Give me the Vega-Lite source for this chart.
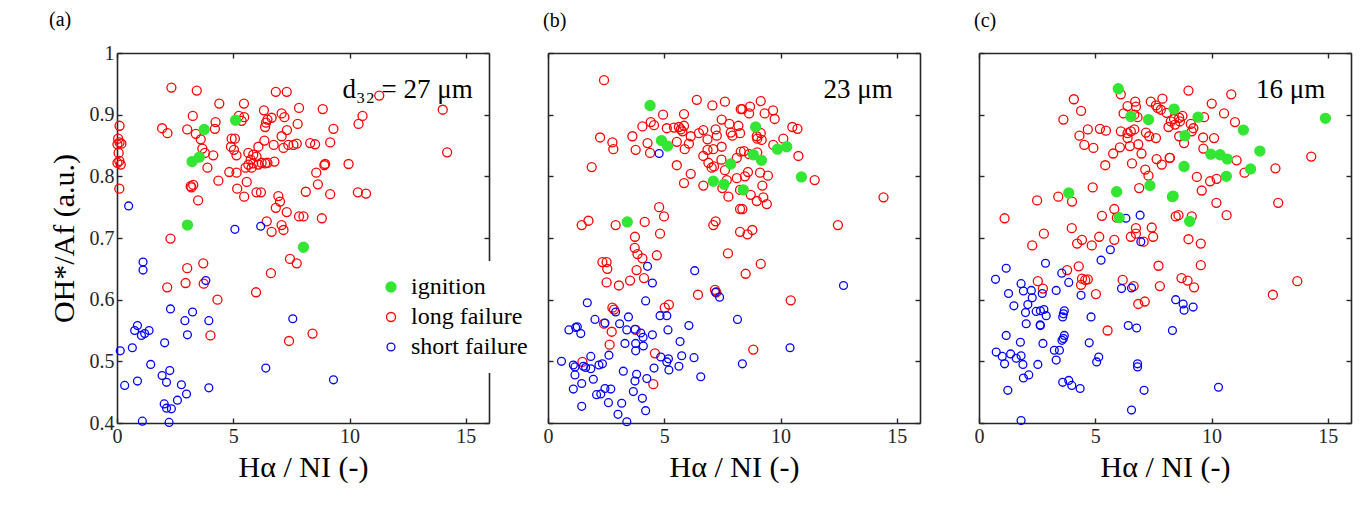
{
"$schema": "https://vega.github.io/schema/vega-lite/v6.json",
"padding": {"left": 49, "top": 10, "right": 5, "bottom": 5},
"config": {
  "font": "Liberation Serif",
  "view": {"stroke": null},
  "axis": {"grid": false, "domainColor": "#262626", "domainWidth": 1.6, "tickColor": "#262626", "tickWidth": 1.4, "tickSize": -5, "labelFont": "Liberation Serif", "labelFontSize": 20, "labelColor": "#262626", "labelPadding": 8, "titleFont": "Liberation Serif", "titleFontSize": 30, "titleFontWeight": "normal", "titleColor": "#000000", "titlePadding": 10, "labelFlush": false, "labelOverlap": false},
  "axisX": {"titlePadding": 6},
  "title": {"font": "Liberation Serif", "fontSize": 20, "fontWeight": "normal", "anchor": "start", "offset": 21, "color": "#000000"}
},
"datasets": {
"a": [
{"x":2.34,"y":0.944,"t":"L"},{"x":3.43,"y":0.939,"t":"L"},{"x":6.83,"y":0.937,"t":"L"},{"x":7.3,"y":0.937,"t":"L"},{"x":4.4,"y":0.918,"t":"L"},{"x":5.46,"y":0.918,"t":"L"},{"x":6.32,"y":0.907,"t":"L"},{"x":7.83,"y":0.911,"t":"L"},{"x":0.11,"y":0.882,"t":"L"},{"x":3.26,"y":0.898,"t":"L"},{"x":5.24,"y":0.898,"t":"L"},{"x":5.47,"y":0.896,"t":"L"},{"x":5.36,"y":0.89,"t":"L"},{"x":6.65,"y":0.895,"t":"L"},{"x":6.47,"y":0.892,"t":"L"},{"x":6.41,"y":0.887,"t":"L"},{"x":6.37,"y":0.88,"t":"L"},{"x":7.08,"y":0.902,"t":"L"},{"x":7.2,"y":0.896,"t":"L"},{"x":7.31,"y":0.875,"t":"L"},{"x":4.24,"y":0.888,"t":"L"},{"x":4.21,"y":0.877,"t":"L"},{"x":1.94,"y":0.878,"t":"L"},{"x":2.17,"y":0.87,"t":"L"},{"x":3.02,"y":0.876,"t":"L"},{"x":3.39,"y":0.869,"t":"L"},{"x":3.6,"y":0.86,"t":"L"},
{"x":0.05,"y":0.861,"t":"L"},{"x":0.11,"y":0.855,"t":"L"},{"x":0.02,"y":0.852,"t":"L"},{"x":0.19,"y":0.853,"t":"L"},{"x":0.07,"y":0.838,"t":"L"},{"x":0.1,"y":0.825,"t":"L"},{"x":0.02,"y":0.822,"t":"L"},{"x":0.16,"y":0.819,"t":"L"},{"x":0.1,"y":0.78,"t":"L"},
{"x":4.93,"y":0.861,"t":"L"},{"x":5.07,"y":0.861,"t":"L"},{"x":4.9,"y":0.848,"t":"L"},{"x":5.03,"y":0.843,"t":"L"},{"x":5.14,"y":0.834,"t":"L"},{"x":3.67,"y":0.845,"t":"L"},{"x":3.78,"y":0.838,"t":"L"},{"x":4.14,"y":0.834,"t":"L"},{"x":3.89,"y":0.814,"t":"L"},
{"x":6.34,"y":0.858,"t":"L"},{"x":6.08,"y":0.848,"t":"L"},{"x":6.74,"y":0.851,"t":"L"},{"x":7.08,"y":0.865,"t":"L"},{"x":7.16,"y":0.846,"t":"L"},{"x":7.37,"y":0.851,"t":"L"},{"x":7.59,"y":0.851,"t":"L"},{"x":7.73,"y":0.853,"t":"L"},
{"x":5.65,"y":0.838,"t":"L"},{"x":5.86,"y":0.835,"t":"L"},{"x":5.75,"y":0.827,"t":"L"},{"x":6.0,"y":0.832,"t":"L"},{"x":5.65,"y":0.819,"t":"L"},{"x":5.86,"y":0.821,"t":"L"},{"x":6.08,"y":0.819,"t":"L"},{"x":5.79,"y":0.814,"t":"L"},{"x":5.53,"y":0.814,"t":"L"},{"x":6.22,"y":0.822,"t":"L"},{"x":6.47,"y":0.822,"t":"L"},{"x":6.77,"y":0.824,"t":"L"},{"x":6.37,"y":0.821,"t":"L"},
{"x":4.83,"y":0.807,"t":"L"},{"x":5.14,"y":0.806,"t":"L"},{"x":4.36,"y":0.793,"t":"L"},{"x":5.58,"y":0.791,"t":"L"},{"x":3.17,"y":0.784,"t":"L"},{"x":3.28,"y":0.786,"t":"L"},{"x":3.2,"y":0.782,"t":"L"},{"x":3.49,"y":0.761,"t":"L"},{"x":5.17,"y":0.78,"t":"L"},{"x":5.47,"y":0.767,"t":"L"},{"x":6.0,"y":0.774,"t":"L"},{"x":6.19,"y":0.774,"t":"L"},{"x":6.94,"y":0.768,"t":"L"},{"x":7.01,"y":0.759,"t":"L"},{"x":6.83,"y":0.749,"t":"L"},{"x":7.3,"y":0.742,"t":"L"},{"x":7.83,"y":0.735,"t":"L"},{"x":6.44,"y":0.727,"t":"L"},{"x":7.08,"y":0.721,"t":"L"},{"x":7.16,"y":0.713,"t":"L"},{"x":6.65,"y":0.71,"t":"L"},{"x":2.3,"y":0.699,"t":"L"},
{"x":11.28,"y":0.931,"t":"L"},{"x":14.01,"y":0.908,"t":"L"},{"x":14.2,"y":0.839,"t":"L"},{"x":8.85,"y":0.909,"t":"L"},{"x":10.56,"y":0.898,"t":"L"},{"x":10.39,"y":0.885,"t":"L"},{"x":7.77,"y":0.885,"t":"L"},{"x":9.31,"y":0.877,"t":"L"},{"x":8.31,"y":0.854,"t":"L"},{"x":8.52,"y":0.852,"t":"L"},{"x":9.17,"y":0.855,"t":"L"},{"x":8.95,"y":0.82,"t":"L"},{"x":8.92,"y":0.818,"t":"L"},{"x":9.96,"y":0.82,"t":"L"},{"x":8.57,"y":0.806,"t":"L"},{"x":8.64,"y":0.787,"t":"L"},{"x":8.12,"y":0.775,"t":"L"},{"x":9.17,"y":0.771,"t":"L"},{"x":10.36,"y":0.774,"t":"L"},{"x":10.71,"y":0.772,"t":"L"},{"x":8.02,"y":0.735,"t":"L"},{"x":8.81,"y":0.732,"t":"L"},
{"x":3.02,"y":0.651,"t":"L"},{"x":3.71,"y":0.659,"t":"L"},{"x":2.95,"y":0.627,"t":"L"},{"x":3.73,"y":0.626,"t":"L"},{"x":2.16,"y":0.62,"t":"L"},{"x":4.32,"y":0.6,"t":"L"},{"x":5.98,"y":0.612,"t":"L"},{"x":6.62,"y":0.643,"t":"L"},{"x":7.44,"y":0.666,"t":"L"},{"x":7.73,"y":0.659,"t":"L"},{"x":4.02,"y":0.542,"t":"L"},{"x":7.4,"y":0.533,"t":"L"},{"x":8.41,"y":0.545,"t":"L"},
{"x":0.5,"y":0.752,"t":"S"},{"x":5.07,"y":0.714,"t":"S"},{"x":6.18,"y":0.719,"t":"S"},{"x":1.12,"y":0.661,"t":"S"},{"x":1.12,"y":0.648,"t":"S"},{"x":3.82,"y":0.631,"t":"S"},{"x":2.3,"y":0.585,"t":"S"},{"x":3.25,"y":0.58,"t":"S"},{"x":2.92,"y":0.566,"t":"S"},{"x":3.95,"y":0.566,"t":"S"},{"x":3.03,"y":0.543,"t":"S"},{"x":0.88,"y":0.558,"t":"S"},{"x":0.76,"y":0.55,"t":"S"},{"x":1.05,"y":0.542,"t":"S"},{"x":1.19,"y":0.545,"t":"S"},{"x":1.38,"y":0.55,"t":"S"},{"x":2.05,"y":0.53,"t":"S"},{"x":0.14,"y":0.517,"t":"S"},{"x":0.66,"y":0.522,"t":"S"},{"x":1.45,"y":0.495,"t":"S"},{"x":1.94,"y":0.477,"t":"S"},{"x":2.27,"y":0.485,"t":"S"},{"x":2.13,"y":0.466,"t":"S"},{"x":0.33,"y":0.461,"t":"S"},{"x":0.88,"y":0.468,"t":"S"},{"x":2.77,"y":0.462,"t":"S"},{"x":2.99,"y":0.447,"t":"S"},{"x":2.6,"y":0.437,"t":"S"},{"x":3.95,"y":0.457,"t":"S"},{"x":2.03,"y":0.431,"t":"S"},{"x":2.13,"y":0.424,"t":"S"},{"x":2.34,"y":0.423,"t":"S"},{"x":1.09,"y":0.403,"t":"S"},{"x":2.24,"y":0.401,"t":"S"},{"x":7.56,"y":0.569,"t":"S"},{"x":9.31,"y":0.47,"t":"S"},{"x":6.4,"y":0.489,"t":"S"},
{"x":5.1,"y":0.891,"t":"I"},{"x":3.75,"y":0.876,"t":"I"},{"x":3.54,"y":0.831,"t":"I"},{"x":3.23,"y":0.824,"t":"I"},{"x":3.03,"y":0.721,"t":"I"},{"x":8.02,"y":0.685,"t":"I"}
],
"b": [
{"x":2.41,"y":0.956,"t":"L"},{"x":6.4,"y":0.924,"t":"L"},{"x":7.07,"y":0.915,"t":"L"},{"x":7.61,"y":0.921,"t":"L"},{"x":8.29,"y":0.909,"t":"L"},{"x":4.95,"y":0.9,"t":"L"},{"x":5.85,"y":0.901,"t":"L"},{"x":4.06,"y":0.881,"t":"L"},{"x":4.42,"y":0.888,"t":"L"},{"x":4.56,"y":0.883,"t":"L"},{"x":5.11,"y":0.878,"t":"L"},{"x":5.42,"y":0.879,"t":"L"},{"x":5.63,"y":0.88,"t":"L"},{"x":5.71,"y":0.876,"t":"L"},{"x":5.85,"y":0.882,"t":"L"},{"x":5.78,"y":0.873,"t":"L"},
{"x":6.49,"y":0.87,"t":"L"},{"x":6.68,"y":0.875,"t":"L"},{"x":6.86,"y":0.86,"t":"L"},{"x":7.21,"y":0.876,"t":"L"},{"x":7.26,"y":0.866,"t":"L"},{"x":7.47,"y":0.892,"t":"L"},{"x":7.8,"y":0.885,"t":"L"},{"x":7.86,"y":0.871,"t":"L"},{"x":7.93,"y":0.866,"t":"L"},{"x":8.19,"y":0.882,"t":"L"},{"x":8.26,"y":0.87,"t":"L"},
{"x":6.14,"y":0.865,"t":"L"},{"x":6.06,"y":0.853,"t":"L"},{"x":5.54,"y":0.856,"t":"L"},
{"x":2.24,"y":0.863,"t":"L"},{"x":2.77,"y":0.855,"t":"L"},{"x":2.81,"y":0.844,"t":"L"},{"x":3.63,"y":0.865,"t":"L"},{"x":3.77,"y":0.843,"t":"L"},{"x":4.28,"y":0.854,"t":"L"},{"x":4.39,"y":0.838,"t":"L"},{"x":5.88,"y":0.844,"t":"L"},{"x":1.88,"y":0.815,"t":"L"},
{"x":6.68,"y":0.833,"t":"L"},{"x":6.86,"y":0.843,"t":"L"},{"x":7.11,"y":0.844,"t":"L"},{"x":7.47,"y":0.848,"t":"L"},{"x":6.9,"y":0.822,"t":"L"},{"x":7.04,"y":0.814,"t":"L"},{"x":7.14,"y":0.816,"t":"L"},{"x":7.61,"y":0.81,"t":"L"},{"x":7.46,"y":0.827,"t":"L"},{"x":8.12,"y":0.83,"t":"L"},{"x":8.29,"y":0.84,"t":"L"},
{"x":5.54,"y":0.818,"t":"L"},{"x":6.14,"y":0.804,"t":"L"},{"x":5.85,"y":0.789,"t":"L"},{"x":6.68,"y":0.785,"t":"L"},{"x":7.5,"y":0.781,"t":"L"},{"x":7.76,"y":0.767,"t":"L"},{"x":7.69,"y":0.794,"t":"L"},{"x":8.12,"y":0.797,"t":"L"},{"x":8.26,"y":0.778,"t":"L"},{"x":8.26,"y":0.747,"t":"L"},{"x":4.78,"y":0.75,"t":"L"},{"x":4.99,"y":0.735,"t":"L"},
{"x":1.45,"y":0.721,"t":"L"},{"x":1.74,"y":0.728,"t":"L"},{"x":2.91,"y":0.721,"t":"L"},{"x":4.16,"y":0.726,"t":"L"},{"x":3.74,"y":0.702,"t":"L"},{"x":4.82,"y":0.707,"t":"L"},{"x":7.11,"y":0.721,"t":"L"},{"x":7.21,"y":0.727,"t":"L"},{"x":8.26,"y":0.71,"t":"L"},
{"x":9.15,"y":0.922,"t":"L"},{"x":8.36,"y":0.909,"t":"L"},{"x":8.69,"y":0.913,"t":"L"},{"x":8.65,"y":0.902,"t":"L"},{"x":9.32,"y":0.902,"t":"L"},{"x":9.68,"y":0.907,"t":"L"},{"x":9.75,"y":0.893,"t":"L"},{"x":8.98,"y":0.865,"t":"L"},{"x":9.15,"y":0.87,"t":"L"},{"x":9.19,"y":0.859,"t":"L"},{"x":9.0,"y":0.861,"t":"L"},{"x":10.51,"y":0.88,"t":"L"},{"x":10.73,"y":0.877,"t":"L"},{"x":10.12,"y":0.861,"t":"L"},{"x":9.69,"y":0.851,"t":"L"},{"x":8.43,"y":0.841,"t":"L"},{"x":8.65,"y":0.836,"t":"L"},{"x":9.0,"y":0.839,"t":"L"},{"x":10.77,"y":0.833,"t":"L"},{"x":8.47,"y":0.8,"t":"L"},{"x":8.6,"y":0.807,"t":"L"},{"x":9.12,"y":0.806,"t":"L"},{"x":9.46,"y":0.801,"t":"L"},{"x":9.22,"y":0.785,"t":"L"},{"x":11.47,"y":0.794,"t":"L"},{"x":8.72,"y":0.77,"t":"L"},{"x":8.98,"y":0.76,"t":"L"},{"x":9.26,"y":0.766,"t":"L"},{"x":9.41,"y":0.755,"t":"L"},{"x":8.36,"y":0.747,"t":"L"},{"x":14.43,"y":0.766,"t":"L"},{"x":12.47,"y":0.721,"t":"L"},{"x":8.58,"y":0.706,"t":"L"},{"x":8.79,"y":0.713,"t":"L"},
{"x":3.73,"y":0.684,"t":"L"},{"x":3.85,"y":0.674,"t":"L"},{"x":4.06,"y":0.667,"t":"L"},{"x":4.68,"y":0.672,"t":"L"},{"x":2.34,"y":0.661,"t":"L"},{"x":2.52,"y":0.661,"t":"L"},{"x":2.55,"y":0.65,"t":"L"},{"x":2.52,"y":0.628,"t":"L"},{"x":3.05,"y":0.623,"t":"L"},{"x":3.53,"y":0.631,"t":"L"},{"x":3.81,"y":0.648,"t":"L"},{"x":4.13,"y":0.635,"t":"L"},{"x":7.74,"y":0.675,"t":"L"},{"x":6.45,"y":0.608,"t":"L"},{"x":7.18,"y":0.616,"t":"L"},{"x":7.24,"y":0.612,"t":"L"},{"x":2.77,"y":0.587,"t":"L"},{"x":2.84,"y":0.584,"t":"L"},{"x":2.41,"y":0.561,"t":"L"},{"x":2.74,"y":0.548,"t":"L"},{"x":5.02,"y":0.587,"t":"L"},{"x":5.2,"y":0.592,"t":"L"},{"x":3.77,"y":0.551,"t":"L"},{"x":2.65,"y":0.527,"t":"L"},{"x":4.6,"y":0.513,"t":"L"},{"x":1.48,"y":0.499,"t":"L"},{"x":4.53,"y":0.463,"t":"L"},
{"x":9.15,"y":0.658,"t":"L"},{"x":8.5,"y":0.642,"t":"L"},{"x":10.44,"y":0.599,"t":"L"},{"x":8.83,"y":0.519,"t":"L"},
{"x":4.78,"y":0.837,"t":"S"},{"x":4.28,"y":0.654,"t":"S"},{"x":4.49,"y":0.627,"t":"S"},{"x":4.2,"y":0.598,"t":"S"},{"x":1.69,"y":0.595,"t":"S"},{"x":6.31,"y":0.647,"t":"S"},{"x":7.21,"y":0.612,"t":"S"},{"x":7.38,"y":0.604,"t":"S"},{"x":8.15,"y":0.568,"t":"S"},
{"x":2.02,"y":0.568,"t":"S"},{"x":2.45,"y":0.562,"t":"S"},{"x":2.91,"y":0.58,"t":"S"},{"x":3.08,"y":0.561,"t":"S"},{"x":3.46,"y":0.572,"t":"S"},{"x":3.39,"y":0.551,"t":"S"},{"x":3.74,"y":0.552,"t":"S"},{"x":3.99,"y":0.546,"t":"S"},{"x":4.09,"y":0.539,"t":"S"},{"x":3.31,"y":0.529,"t":"S"},{"x":3.77,"y":0.529,"t":"S"},{"x":4.1,"y":0.525,"t":"S"},{"x":3.77,"y":0.517,"t":"S"},{"x":4.49,"y":0.543,"t":"S"},
{"x":4.82,"y":0.574,"t":"S"},{"x":5.11,"y":0.574,"t":"S"},{"x":5.16,"y":0.551,"t":"S"},{"x":6.06,"y":0.558,"t":"S"},{"x":5.68,"y":0.532,"t":"S"},{"x":0.9,"y":0.551,"t":"S"},{"x":1.19,"y":0.555,"t":"S"},{"x":1.26,"y":0.556,"t":"S"},{"x":1.41,"y":0.545,"t":"S"},
{"x":0.58,"y":0.5,"t":"S"},{"x":1.09,"y":0.494,"t":"S"},{"x":1.16,"y":0.491,"t":"S"},{"x":1.52,"y":0.492,"t":"S"},{"x":1.62,"y":0.49,"t":"S"},{"x":1.84,"y":0.508,"t":"S"},{"x":1.84,"y":0.488,"t":"S"},{"x":2.34,"y":0.496,"t":"S"},{"x":2.19,"y":0.494,"t":"S"},{"x":2.62,"y":0.51,"t":"S"},{"x":1.95,"y":0.471,"t":"S"},{"x":1.16,"y":0.478,"t":"S"},{"x":1.09,"y":0.455,"t":"S"},{"x":1.45,"y":0.464,"t":"S"},
{"x":2.09,"y":0.446,"t":"S"},{"x":2.27,"y":0.447,"t":"S"},{"x":2.45,"y":0.456,"t":"S"},{"x":2.7,"y":0.455,"t":"S"},{"x":2.6,"y":0.433,"t":"S"},{"x":3.17,"y":0.432,"t":"S"},{"x":3.01,"y":0.414,"t":"S"},{"x":3.39,"y":0.402,"t":"S"},{"x":1.45,"y":0.427,"t":"S"},
{"x":3.24,"y":0.484,"t":"S"},{"x":3.81,"y":0.479,"t":"S"},{"x":3.74,"y":0.468,"t":"S"},{"x":4.25,"y":0.472,"t":"S"},{"x":3.67,"y":0.451,"t":"S"},{"x":4.06,"y":0.44,"t":"S"},{"x":4.2,"y":0.42,"t":"S"},
{"x":4.56,"y":0.489,"t":"S"},{"x":4.85,"y":0.507,"t":"S"},{"x":5.18,"y":0.504,"t":"S"},{"x":5.11,"y":0.499,"t":"S"},{"x":5.2,"y":0.486,"t":"S"},{"x":5.75,"y":0.509,"t":"S"},{"x":5.63,"y":0.492,"t":"S"},{"x":6.28,"y":0.506,"t":"S"},{"x":6.57,"y":0.475,"t":"S"},
{"x":8.36,"y":0.496,"t":"S"},{"x":12.71,"y":0.623,"t":"S"},{"x":10.41,"y":0.522,"t":"S"},
{"x":4.39,"y":0.915,"t":"I"},{"x":4.88,"y":0.858,"t":"I"},{"x":5.14,"y":0.849,"t":"I"},{"x":7.86,"y":0.82,"t":"I"},{"x":7.11,"y":0.792,"t":"I"},{"x":7.57,"y":0.787,"t":"I"},{"x":3.41,"y":0.726,"t":"I"},{"x":8.93,"y":0.88,"t":"I"},{"x":9.87,"y":0.844,"t":"I"},{"x":10.27,"y":0.848,"t":"I"},{"x":8.83,"y":0.835,"t":"I"},{"x":9.18,"y":0.826,"t":"I"},{"x":10.9,"y":0.799,"t":"I"},{"x":8.4,"y":0.778,"t":"I"}
],
"c": [
{"x":4.08,"y":0.925,"t":"L"},{"x":4.39,"y":0.906,"t":"L"},{"x":3.63,"y":0.892,"t":"L"},
{"x":6.1,"y":0.933,"t":"L"},{"x":6.39,"y":0.914,"t":"L"},{"x":6.72,"y":0.921,"t":"L"},{"x":6.75,"y":0.913,"t":"L"},{"x":6.82,"y":0.896,"t":"L"},{"x":6.22,"y":0.902,"t":"L"},{"x":6.68,"y":0.9,"t":"L"},
{"x":7.39,"y":0.921,"t":"L"},{"x":7.61,"y":0.915,"t":"L"},{"x":7.89,"y":0.926,"t":"L"},{"x":7.82,"y":0.908,"t":"L"},{"x":8.07,"y":0.903,"t":"L"},{"x":7.68,"y":0.911,"t":"L"},{"x":8.43,"y":0.884,"t":"L"},{"x":8.15,"y":0.88,"t":"L"},{"x":8.25,"y":0.889,"t":"L"},
{"x":4.68,"y":0.876,"t":"L"},{"x":5.2,"y":0.877,"t":"L"},{"x":5.46,"y":0.874,"t":"L"},{"x":4.32,"y":0.866,"t":"L"},{"x":4.53,"y":0.851,"t":"L"},{"x":4.92,"y":0.846,"t":"L"},
{"x":6.1,"y":0.873,"t":"L"},{"x":6.39,"y":0.87,"t":"L"},{"x":6.53,"y":0.873,"t":"L"},{"x":6.68,"y":0.876,"t":"L"},{"x":7.18,"y":0.871,"t":"L"},{"x":6.39,"y":0.862,"t":"L"},{"x":6.49,"y":0.849,"t":"L"},{"x":6.85,"y":0.852,"t":"L"},{"x":7.32,"y":0.865,"t":"L"},{"x":7.61,"y":0.862,"t":"L"},{"x":6.06,"y":0.847,"t":"L"},
{"x":5.77,"y":0.837,"t":"L"},{"x":6.99,"y":0.837,"t":"L"},{"x":7.64,"y":0.828,"t":"L"},{"x":7.86,"y":0.819,"t":"L"},{"x":8.2,"y":0.83,"t":"L"},{"x":5.43,"y":0.818,"t":"L"},{"x":6.58,"y":0.821,"t":"L"},{"x":7.15,"y":0.811,"t":"L"},{"x":7.29,"y":0.801,"t":"L"},{"x":6.89,"y":0.781,"t":"L"},{"x":4.89,"y":0.782,"t":"L"},
{"x":2.5,"y":0.761,"t":"L"},{"x":3.41,"y":0.767,"t":"L"},{"x":4.0,"y":0.759,"t":"L"},{"x":5.82,"y":0.747,"t":"L"},{"x":5.29,"y":0.736,"t":"L"},{"x":5.93,"y":0.733,"t":"L"},{"x":1.1,"y":0.732,"t":"L"},{"x":8.46,"y":0.735,"t":"L"},
{"x":2.29,"y":0.688,"t":"L"},{"x":2.79,"y":0.707,"t":"L"},{"x":4.22,"y":0.691,"t":"L"},{"x":4.43,"y":0.697,"t":"L"},{"x":4.85,"y":0.688,"t":"L"},{"x":5.17,"y":0.702,"t":"L"},{"x":5.82,"y":0.697,"t":"L"},{"x":6.53,"y":0.702,"t":"L"},{"x":6.75,"y":0.707,"t":"L"},{"x":7.08,"y":0.694,"t":"L"},{"x":7.49,"y":0.702,"t":"L"},{"x":3.99,"y":0.716,"t":"L"},{"x":6.75,"y":0.716,"t":"L"},{"x":7.43,"y":0.717,"t":"L"},
{"x":9.01,"y":0.939,"t":"L"},{"x":10.85,"y":0.933,"t":"L"},{"x":10.01,"y":0.918,"t":"L"},{"x":8.39,"y":0.893,"t":"L"},{"x":8.61,"y":0.895,"t":"L"},{"x":8.75,"y":0.898,"t":"L"},{"x":8.64,"y":0.889,"t":"L"},{"x":9.11,"y":0.885,"t":"L"},{"x":9.22,"y":0.878,"t":"L"},{"x":9.15,"y":0.873,"t":"L"},{"x":9.68,"y":0.896,"t":"L"},{"x":10.54,"y":0.902,"t":"L"},{"x":11.01,"y":0.888,"t":"L"},{"x":8.61,"y":0.865,"t":"L"},{"x":8.82,"y":0.854,"t":"L"},{"x":9.64,"y":0.863,"t":"L"},{"x":10.11,"y":0.862,"t":"L"},{"x":9.65,"y":0.845,"t":"L"},{"x":8.21,"y":0.83,"t":"L"},{"x":11.08,"y":0.826,"t":"L"},{"x":9.37,"y":0.799,"t":"L"},{"x":9.94,"y":0.792,"t":"L"},{"x":10.22,"y":0.796,"t":"L"},{"x":9.58,"y":0.777,"t":"L"},{"x":11.42,"y":0.806,"t":"L"},{"x":12.75,"y":0.813,"t":"L"},{"x":14.29,"y":0.832,"t":"L"},{"x":10.21,"y":0.757,"t":"L"},{"x":10.65,"y":0.737,"t":"L"},{"x":9.15,"y":0.735,"t":"L"},{"x":8.58,"y":0.737,"t":"L"},{"x":12.87,"y":0.757,"t":"L"},{"x":9.01,"y":0.698,"t":"L"},
{"x":4.29,"y":0.654,"t":"L"},{"x":3.79,"y":0.648,"t":"L"},{"x":2.53,"y":0.63,"t":"L"},{"x":2.75,"y":0.618,"t":"L"},{"x":4.43,"y":0.634,"t":"L"},{"x":4.57,"y":0.632,"t":"L"},{"x":4.68,"y":0.633,"t":"L"},{"x":4.39,"y":0.624,"t":"L"},{"x":5.03,"y":0.609,"t":"L"},{"x":5.53,"y":0.55,"t":"L"},{"x":6.18,"y":0.632,"t":"L"},{"x":6.65,"y":0.622,"t":"L"},{"x":6.85,"y":0.593,"t":"L"},{"x":7.13,"y":0.597,"t":"L"},{"x":7.72,"y":0.655,"t":"L"},{"x":7.78,"y":0.622,"t":"L"},
{"x":9.54,"y":0.691,"t":"L"},{"x":9.54,"y":0.656,"t":"L"},{"x":8.71,"y":0.635,"t":"L"},{"x":8.97,"y":0.631,"t":"L"},{"x":9.25,"y":0.62,"t":"L"},{"x":12.64,"y":0.608,"t":"L"},{"x":13.69,"y":0.63,"t":"L"},
{"x":6.32,"y":0.732,"t":"S"},{"x":6.93,"y":0.737,"t":"S"},{"x":6.96,"y":0.694,"t":"S"},{"x":5.65,"y":0.681,"t":"S"},{"x":5.25,"y":0.664,"t":"S"},
{"x":1.17,"y":0.651,"t":"S"},{"x":0.71,"y":0.633,"t":"S"},{"x":2.86,"y":0.659,"t":"S"},{"x":3.56,"y":0.643,"t":"S"},{"x":3.86,"y":0.628,"t":"S"},{"x":6.13,"y":0.618,"t":"S"},{"x":6.56,"y":0.619,"t":"S"},{"x":4.39,"y":0.607,"t":"S"},{"x":3.32,"y":0.615,"t":"S"},
{"x":1.81,"y":0.626,"t":"S"},{"x":1.91,"y":0.614,"t":"S"},{"x":2.25,"y":0.615,"t":"S"},{"x":1.27,"y":0.61,"t":"S"},{"x":2.29,"y":0.603,"t":"S"},{"x":2.72,"y":0.61,"t":"S"},{"x":1.5,"y":0.59,"t":"S"},{"x":2.1,"y":0.592,"t":"S"},{"x":2.0,"y":0.579,"t":"S"},{"x":2.46,"y":0.581,"t":"S"},{"x":2.64,"y":0.582,"t":"S"},{"x":2.79,"y":0.584,"t":"S"},{"x":2.89,"y":0.574,"t":"S"},{"x":2.03,"y":0.561,"t":"S"},{"x":2.63,"y":0.559,"t":"S"},{"x":2.64,"y":0.558,"t":"S"},
{"x":3.67,"y":0.582,"t":"S"},{"x":3.63,"y":0.577,"t":"S"},{"x":3.6,"y":0.572,"t":"S"},{"x":4.82,"y":0.572,"t":"S"},{"x":6.42,"y":0.558,"t":"S"},{"x":6.78,"y":0.554,"t":"S"},{"x":8.32,"y":0.55,"t":"S"},{"x":8.46,"y":0.6,"t":"S"},
{"x":1.17,"y":0.542,"t":"S"},{"x":1.78,"y":0.531,"t":"S"},{"x":2.75,"y":0.529,"t":"S"},{"x":0.74,"y":0.515,"t":"S"},{"x":1.0,"y":0.508,"t":"S"},{"x":1.36,"y":0.512,"t":"S"},{"x":1.1,"y":0.496,"t":"S"},{"x":1.6,"y":0.505,"t":"S"},{"x":1.81,"y":0.509,"t":"S"},{"x":1.89,"y":0.495,"t":"S"},{"x":2.53,"y":0.495,"t":"S"},{"x":1.91,"y":0.473,"t":"S"},{"x":2.14,"y":0.478,"t":"S"},
{"x":3.67,"y":0.542,"t":"S"},{"x":3.63,"y":0.537,"t":"S"},{"x":3.57,"y":0.534,"t":"S"},{"x":3.24,"y":0.518,"t":"S"},{"x":3.46,"y":0.518,"t":"S"},{"x":3.32,"y":0.502,"t":"S"},{"x":4.74,"y":0.53,"t":"S"},{"x":5.15,"y":0.507,"t":"S"},{"x":5.06,"y":0.499,"t":"S"},{"x":3.6,"y":0.466,"t":"S"},{"x":3.86,"y":0.469,"t":"S"},{"x":3.99,"y":0.461,"t":"S"},{"x":4.35,"y":0.456,"t":"S"},{"x":1.24,"y":0.453,"t":"S"},{"x":1.81,"y":0.404,"t":"S"},
{"x":6.82,"y":0.496,"t":"S"},{"x":6.82,"y":0.491,"t":"S"},{"x":7.1,"y":0.453,"t":"S"},{"x":6.56,"y":0.421,"t":"S"},{"x":8.78,"y":0.593,"t":"S"},{"x":8.82,"y":0.583,"t":"S"},{"x":9.21,"y":0.588,"t":"S"},{"x":10.3,"y":0.458,"t":"S"},
{"x":5.99,"y":0.942,"t":"I"},{"x":6.53,"y":0.897,"t":"I"},{"x":7.29,"y":0.892,"t":"I"},{"x":8.39,"y":0.909,"t":"I"},{"x":3.86,"y":0.773,"t":"I"},{"x":5.92,"y":0.775,"t":"I"},{"x":7.35,"y":0.785,"t":"I"},{"x":8.32,"y":0.767,"t":"I"},{"x":6.03,"y":0.733,"t":"I"},{"x":9.42,"y":0.896,"t":"I"},{"x":8.86,"y":0.866,"t":"I"},{"x":11.37,"y":0.875,"t":"I"},{"x":14.9,"y":0.894,"t":"I"},{"x":12.08,"y":0.841,"t":"I"},{"x":9.97,"y":0.836,"t":"I"},{"x":10.37,"y":0.835,"t":"I"},{"x":10.68,"y":0.828,"t":"I"},{"x":8.82,"y":0.816,"t":"I"},{"x":11.68,"y":0.812,"t":"I"},{"x":10.64,"y":0.8,"t":"I"},{"x":8.35,"y":0.768,"t":"I"},{"x":9.06,"y":0.727,"t":"I"}
]
},
"hconcat": [
{
 "width": 372, "height": 370,
 "title": {"text": "(a)", "offset": 13},
 "data": {"name": "a"},
 "layer": [
  {"mark": {"type": "point", "strokeWidth": 1.3, "opacity": 1},
   "encoding": {
    "x": {"field": "x", "type": "quantitative", "scale": {"domain": [0, 16], "nice": false, "zero": false}, "axis": {"values": [0, 5, 10, 15], "title": "Hα / NI (-)"}},
    "y": {"field": "y", "type": "quantitative", "scale": {"domain": [0.4, 1], "nice": false, "zero": false}, "axis": {"values": [0.4, 0.5, 0.6, 0.7, 0.8, 0.9, 1], "format": "~g", "title": "OH*/Af (a.u.)"}},
    "fill": {"field": "t", "type": "nominal", "scale": {"domain": ["I", "L", "S"], "range": ["#33e633", "transparent", "transparent"]}, "legend": {"orient": "none", "legendX": 248, "legendY": 208, "title": null, "labelExpr": "datum.label == 'I' ? 'ignition' : datum.label == 'L' ? 'long failure' : 'short failure'", "fillColor": "white", "padding": 14, "labelFontSize": 24, "labelFont": "Liberation Serif", "labelColor": "#000000", "symbolStrokeWidth": 1.3, "symbolOpacity": 1, "rowPadding": 6, "labelOffset": 8, "symbolType": "circle"}},
    "stroke": {"field": "t", "type": "nominal", "scale": {"domain": ["I", "L", "S"], "range": ["#33e633", "#ff0000", "#0000ff"]}, "legend": {"orient": "none", "legendX": 248, "legendY": 208, "title": null, "labelExpr": "datum.label == 'I' ? 'ignition' : datum.label == 'L' ? 'long failure' : 'short failure'", "fillColor": "white", "padding": 14, "labelFontSize": 24, "labelFont": "Liberation Serif", "labelColor": "#000000", "symbolStrokeWidth": 1.3, "symbolOpacity": 1, "rowPadding": 6, "labelOffset": 8, "symbolType": "circle"}},
    "size": {"field": "t", "type": "nominal", "scale": {"domain": ["I", "L", "S"], "range": [100, 62, 62]}, "legend": {"orient": "none", "legendX": 248, "legendY": 208, "title": null, "labelExpr": "datum.label == 'I' ? 'ignition' : datum.label == 'L' ? 'long failure' : 'short failure'", "fillColor": "white", "padding": 14, "labelFontSize": 24, "labelFont": "Liberation Serif", "labelColor": "#000000", "symbolStrokeWidth": 1.3, "symbolOpacity": 1, "rowPadding": 6, "labelOffset": 8, "symbolType": "circle"}}
   }},
  {"data": {"values": [{"x": 12.5, "y": 0.94, "label": "d₃₂ = 27 μm"}]},
   "mark": {"type": "text", "fontSize": 27, "font": "Liberation Serif", "color": "#000000", "align": "center", "baseline": "middle"},
   "encoding": {
    "x": {"field": "x", "type": "quantitative", "axis": {"orient": "top", "values": [0, 5, 10, 15], "labels": false, "title": null}},
    "y": {"field": "y", "type": "quantitative", "axis": {"orient": "right", "values": [0.4, 0.5, 0.6, 0.7, 0.8, 0.9, 1], "labels": false, "title": null}},
    "text": {"field": "label"}
   }}
 ],
 "resolve": {"axis": {"x": "independent", "y": "independent"}}
},
{
 "width": 372, "height": 370,
 "title": {"text": "(b)"},
 "data": {"name": "b"},
 "layer": [
  {"mark": {"type": "point", "strokeWidth": 1.3, "opacity": 1},
   "encoding": {
    "x": {"field": "x", "type": "quantitative", "scale": {"domain": [0, 16], "nice": false, "zero": false}, "axis": {"values": [0, 5, 10, 15], "title": "Hα / NI (-)"}},
    "y": {"field": "y", "type": "quantitative", "scale": {"domain": [0.4, 1], "nice": false, "zero": false}, "axis": {"values": [0.4, 0.5, 0.6, 0.7, 0.8, 0.9, 1], "labels": false, "title": null}},
    "fill": {"field": "t", "type": "nominal", "scale": {"domain": ["I", "L", "S"], "range": ["#33e633", "transparent", "transparent"]}, "legend": null},
    "stroke": {"field": "t", "type": "nominal", "scale": {"domain": ["I", "L", "S"], "range": ["#33e633", "#ff0000", "#0000ff"]}, "legend": null},
    "size": {"field": "t", "type": "nominal", "scale": {"domain": ["I", "L", "S"], "range": [100, 62, 62]}, "legend": null}
   }},
  {"data": {"values": [{"x": 13.34, "y": 0.94, "label": "23 μm"}]},
   "mark": {"type": "text", "fontSize": 27, "font": "Liberation Serif", "color": "#000000", "align": "center", "baseline": "middle"},
   "encoding": {
    "x": {"field": "x", "type": "quantitative", "axis": {"orient": "top", "values": [0, 5, 10, 15], "labels": false, "title": null}},
    "y": {"field": "y", "type": "quantitative", "axis": {"orient": "right", "values": [0.4, 0.5, 0.6, 0.7, 0.8, 0.9, 1], "labels": false, "title": null}},
    "text": {"field": "label"}
   }}
 ],
 "resolve": {"axis": {"x": "independent", "y": "independent"}}
},
{
 "width": 372, "height": 370,
 "title": {"text": "(c)"},
 "data": {"name": "c"},
 "layer": [
  {"mark": {"type": "point", "strokeWidth": 1.3, "opacity": 1},
   "encoding": {
    "x": {"field": "x", "type": "quantitative", "scale": {"domain": [0, 16], "nice": false, "zero": false}, "axis": {"values": [0, 5, 10, 15], "title": "Hα / NI (-)"}},
    "y": {"field": "y", "type": "quantitative", "scale": {"domain": [0.4, 1], "nice": false, "zero": false}, "axis": {"values": [0.4, 0.5, 0.6, 0.7, 0.8, 0.9, 1], "labels": false, "title": null}},
    "fill": {"field": "t", "type": "nominal", "scale": {"domain": ["I", "L", "S"], "range": ["#33e633", "transparent", "transparent"]}, "legend": null},
    "stroke": {"field": "t", "type": "nominal", "scale": {"domain": ["I", "L", "S"], "range": ["#33e633", "#ff0000", "#0000ff"]}, "legend": null},
    "size": {"field": "t", "type": "nominal", "scale": {"domain": ["I", "L", "S"], "range": [100, 62, 62]}, "legend": null}
   }},
  {"data": {"values": [{"x": 13.4, "y": 0.94, "label": "16 μm"}]},
   "mark": {"type": "text", "fontSize": 27, "font": "Liberation Serif", "color": "#000000", "align": "center", "baseline": "middle"},
   "encoding": {
    "x": {"field": "x", "type": "quantitative", "axis": {"orient": "top", "values": [0, 5, 10, 15], "labels": false, "title": null}},
    "y": {"field": "y", "type": "quantitative", "axis": {"orient": "right", "values": [0.4, 0.5, 0.6, 0.7, 0.8, 0.9, 1], "labels": false, "title": null}},
    "text": {"field": "label"}
   }}
 ],
 "resolve": {"axis": {"x": "independent", "y": "independent"}}
}
],
"spacing": 59,
"bounds": "flush",
"resolve": {"scale": {"fill": "independent", "stroke": "independent", "size": "independent"}}
}
